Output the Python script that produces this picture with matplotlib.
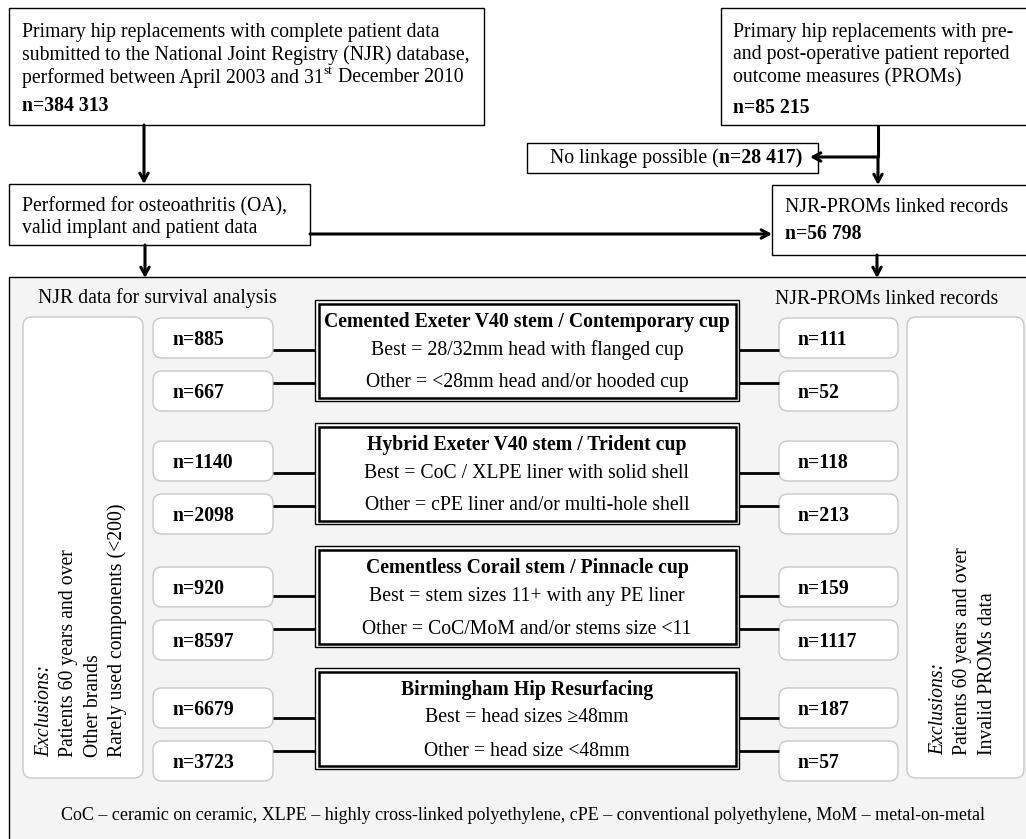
import matplotlib
matplotlib.use("Agg")
import matplotlib.pyplot as plt
from matplotlib.patches import Rectangle, FancyBboxPatch

plt.rcParams['font.family'] = ['Liberation Serif', 'DejaVu Serif']

# chart content
top_left_lines = ["Primary hip replacements with complete patient data",
                  "submitted to the National Joint Registry (NJR) database,"]
top_left_last = ["performed between April 2003 and 31", "st", " December 2010"]
top_left_n = "n=384 313"
top_right_lines = ["Primary hip replacements with pre-",
                   "and post-operative patient reported",
                   "outcome measures (PROMs)"]
top_right_n = "n=85 215"
no_link_label = "No linkage possible ("
no_link_n = "n=28 417)"
oa_lines = ["Performed for osteoathritis (OA),", "valid implant and patient data"]
linked_label = "NJR-PROMs linked records"
linked_n = "n=56 798"

group_titles = ["Cemented Exeter V40 stem / Contemporary cup",
                "Hybrid Exeter V40 stem / Trident cup",
                "Cementless Corail stem / Pinnacle cup",
                "Birmingham Hip Resurfacing"]
best_text = ["Best = 28/32mm head with flanged cup",
             "Best = CoC / XLPE liner with solid shell",
             "Best = stem sizes 11+ with any PE liner",
             "Best = head sizes \u226548mm"]
other_text = ["Other = <28mm head and/or hooded cup",
              "Other = cPE liner and/or multi-hole shell",
              "Other = CoC/MoM and/or stems size <11",
              "Other = head size <48mm"]
njr_best = [885, 1140, 920, 6679]
njr_other = [667, 2098, 8597, 3723]
proms_best = [111, 118, 159, 187]
proms_other = [52, 213, 1117, 57]

left_excl = ["Patients 60 years and over", "Other brands", "Rarely used components (<200)"]
right_excl = ["Patients 60 years and over", "Invalid PROMs data"]
footnote = ("CoC \u2013 ceramic on ceramic, XLPE \u2013 highly cross-linked polyethylene, "
            "cPE \u2013 conventional polyethylene, MoM \u2013 metal-on-metal")

FS = 14.2

fig = plt.figure(figsize=(10.26, 8.39), dpi=100)
ax = fig.add_axes([0, 0, 1, 1])
ax.set_xlim(0, 1026)
ax.set_ylim(839, 0)
ax.axis('off')


def box(x0, y0, x1, y1, **kw):
    kw.setdefault('fc', 'white')
    kw.setdefault('ec', 'black')
    kw.setdefault('lw', 1.0)
    ax.add_patch(Rectangle((x0, y0), x1 - x0, y1 - y0, **kw))


def rbox(x0, y0, x1, y1):
    ax.add_patch(FancyBboxPatch((x0, y0), x1 - x0, y1 - y0,
                                boxstyle="round,pad=0,rounding_size=9",
                                fc='white', ec='#c8c8c8', lw=1.0, zorder=2))


def arrow(x0, y0, x1, y1):
    ax.annotate("", xy=(x1, y1), xytext=(x0, y0),
                arrowprops=dict(arrowstyle='->,head_length=0.55,head_width=0.3',
                                lw=2.2, color='black', shrinkA=0, shrinkB=0))


# top left box
box(9, 8, 484, 125)
for i, s in enumerate(top_left_lines):
    ax.text(22, 32 + 23 * i, s, fontsize=FS, va='center', ha='left')
ta = ax.text(22, 78, top_left_last[0], fontsize=FS, va='center', ha='left')
tb = ax.annotate(top_left_last[1], xy=(1, 0.55), xycoords=ta, fontsize=FS * 0.68,
                 va='bottom', ha='left')
ax.annotate(top_left_last[2], xy=(1, 0.5), xycoords=(tb, ta), fontsize=FS,
            va='center', ha='left')
ax.text(22, 106, top_left_n, fontsize=FS, va='center', ha='left', weight='bold')
arrow(144, 125, 144, 184)

# top right box
box(721, 8, 1040, 125)
for i, s in enumerate(top_right_lines):
    ax.text(733, 32 + 23 * i, s, fontsize=FS, va='center', ha='left')
ax.text(733, 108, top_right_n, fontsize=FS, va='center', ha='left', weight='bold')

# no linkage box and branch
box(527, 143, 818, 173)
t1 = ax.text(550, 158, no_link_label, fontsize=FS, va='center', ha='left')
ax.annotate(no_link_n, xy=(1, 0.5), xycoords=t1, va='center', ha='left',
            fontsize=FS, weight='bold')
ax.plot([878, 878], [125, 157], color='black', lw=2.2, solid_capstyle='butt')
arrow(878, 157, 810, 157)
arrow(878, 157, 878, 185)

# OA box
box(9, 184, 310, 245)
for i, s in enumerate(oa_lines):
    ax.text(22, 207 + 22 * i, s, fontsize=FS, va='center', ha='left')

# linked records box
box(772, 185, 1040, 255)
ax.text(785, 207, linked_label, fontsize=FS, va='center', ha='left')
ax.text(785, 234, linked_n, fontsize=FS, va='center', ha='left', weight='bold')
arrow(310, 234, 772, 234)

# big grey panel
box(9, 277, 1040, 860, fc='#f4f4f4', zorder=0)
arrow(145, 245, 145, 278)
arrow(877, 255, 877, 278)
ax.text(157, 298, "NJR data for survival analysis", fontsize=FS, ha='center', va='center')
ax.text(887, 299, linked_label, fontsize=FS, ha='center', va='center')

# exclusion boxes
rbox(23, 317, 143, 778)
rbox(907, 317, 1024, 778)
ax.text(45, 757, "Exclusions:", fontsize=FS, rotation=90, ha='center', va='bottom', style='italic')
for i, s in enumerate(left_excl):
    ax.text(69 + 24 * i, 757, s, fontsize=FS, rotation=90, ha='center', va='bottom')
ax.text(939, 755, "Exclusions:", fontsize=FS, rotation=90, ha='center', va='bottom', style='italic')
for i, s in enumerate(right_excl):
    ax.text(963 + 24 * i, 755, s, fontsize=FS, rotation=90, ha='center', va='bottom')

# group boxes
group_tops = [300, 423, 546, 668]
pair_tops = [318, 441, 567, 688]
for g in range(4):
    top = group_tops[g]
    bot = top + 101
    box(315, top, 739, bot, lw=1.0, zorder=3)
    box(318.5, top + 3.5, 735.5, bot - 3.5, fc='none', lw=1.8, zorder=3)
    ax.text(527, top + 22, group_titles[g], fontsize=FS, weight='bold', ha='center', va='center', zorder=4)
    y_best = top + 50
    y_other = top + 83
    ax.text(527, y_best, best_text[g], fontsize=FS, ha='center', va='center', zorder=4)
    ax.text(527, y_other, other_text[g], fontsize=FS, ha='center', va='center', zorder=4)

    pt = pair_tops[g]
    for k, (ln, rn, yc) in enumerate([(njr_best[g], proms_best[g], y_best),
                                      (njr_other[g], proms_other[g], y_other)]):
        y0 = pt + 53 * k
        rbox(153, y0, 273, y0 + 40)
        rbox(779, y0, 898, y0 + 40)
        ax.text(173, y0 + 22, f"n={ln}", fontsize=FS, weight='bold', ha='left', va='center', zorder=4)
        ax.text(798, y0 + 22, f"n={rn}", fontsize=FS, weight='bold', ha='left', va='center', zorder=4)
        ax.plot([273, 315], [yc, yc], color='black', lw=2.0, solid_capstyle='butt', zorder=3)
        ax.plot([739, 779], [yc, yc], color='black', lw=2.0, solid_capstyle='butt', zorder=3)

ax.text(523, 815, footnote, fontsize=13, ha='center', va='center')

fig.savefig("out.png", dpi=100)
